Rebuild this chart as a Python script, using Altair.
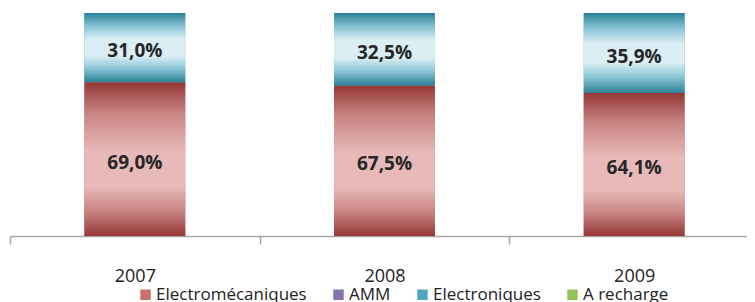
import altair as alt
import pandas as pd

years = ["2007", "2008", "2009"]
series = ["Electromécaniques", "AMM", "Electroniques", "A recharge"]
electromecaniques = [69.0, 67.5, 64.1]
amm = [0.0, 0.0, 0.0]
electroniques = [31.0, 32.5, 35.9]
a_recharge = [0.0, 0.0, 0.0]
legend_colors = ["#c86f6c", "#8a73a8", "#4fa7bf", "#93c25a"]

rows = []
for i, y in enumerate(years):
    for k, (s, vals) in enumerate(zip(series, [electromecaniques, amm, electroniques, a_recharge])):
        rows.append({"year": y, "series": s, "value": vals[i], "order": k})
df = pd.DataFrame(rows)

FONT = "Open Sans"
RANGE_W = 749
STEP = RANGE_W / len(years)

red_grad = alt.Gradient(
    gradient="linear", x1=0, x2=0, y1=0, y2=1,
    stops=[
        alt.GradientStop(color="#953735", offset=0),
        alt.GradientStop(color="#c78482", offset=0.2),
        alt.GradientStop(color="#e7b9b8", offset=0.45),
        alt.GradientStop(color="#e7b9b8", offset=0.68),
        alt.GradientStop(color="#c78482", offset=0.84),
        alt.GradientStop(color="#953735", offset=1),
    ],
)
teal_grad = alt.Gradient(
    gradient="linear", x1=0, x2=0, y1=0, y2=1,
    stops=[
        alt.GradientStop(color="#2b8096", offset=0),
        alt.GradientStop(color="#8cc6d6", offset=0.2),
        alt.GradientStop(color="#dbeef4", offset=0.38),
        alt.GradientStop(color="#dbeef4", offset=0.62),
        alt.GradientStop(color="#8cc6d6", offset=0.8),
        alt.GradientStop(color="#2b8096", offset=1),
    ],
)

x_enc = alt.X(
    "year:N",
    sort=years,
    title=None,
    scale=alt.Scale(range=[0, RANGE_W], paddingInner=0.596, paddingOuter=0.298),
    axis=alt.Axis(
        labelAngle=0,
        labelFont=FONT,
        labelFontSize=18,
        labelColor="#222222",
        labelPadding=23,
        domainColor="#a6a6a6",
        domainWidth=1.5,
        tickColor="#a6a6a6",
        tickWidth=1.5,
        tickSize=8,
        tickOffset=-STEP / 2,
        labelOffset=STEP / 2,
        grid=False,
    ),
)
y_scale = alt.Scale(domain=[0, 100])

base = alt.Chart(df).transform_stack(
    stack="value",
    groupby=["year"],
    as_=["y0", "y1"],
    sort=[alt.SortField("order", order="ascending")],
)

legend_layer = base.mark_bar().encode(
    x=x_enc,
    y=alt.Y("y0:Q", scale=y_scale, axis=None),
    y2="y1:Q",
    color=alt.Color(
        "series:N",
        scale=alt.Scale(domain=series, range=legend_colors),
        legend=alt.Legend(
            title=None,
            orient="none",
            direction="horizontal",
            legendX=127,
            legendY=273,
            symbolType="square",
            symbolSize=110,
            symbolStrokeWidth=0,
            labelFont=FONT,
            labelFontSize=17,
            labelColor="#222222",
            labelOffset=2,
            columnPadding=23,
        ),
    ),
)

red_layer = base.transform_filter(alt.datum.series == "Electromécaniques").mark_bar(fill=red_grad).encode(
    x=x_enc, y=alt.Y("y0:Q", scale=y_scale, axis=None), y2="y1:Q"
)
teal_layer = base.transform_filter(alt.datum.series == "Electroniques").mark_bar(fill=teal_grad).encode(
    x=x_enc, y=alt.Y("y0:Q", scale=y_scale, axis=None), y2="y1:Q"
)

text_layer = base.transform_filter(alt.datum.value > 0).transform_calculate(
    mid="(datum.y0 + datum.y1) / 2",
    label="replace(format(datum.value, '.1f'), '.', ',') + '%'",
).mark_text(font=FONT, fontWeight="bold", fontSize=19, color="#262626", dy=3.5).encode(
    x=x_enc, y=alt.Y("mid:Q", scale=y_scale, axis=None), text="label:N"
)

chart = alt.layer(legend_layer, red_layer, teal_layer, text_layer).properties(
    width=737,
    height=223,
    autosize=alt.AutoSizeParams(type="none"),
    padding={"left": 2, "top": 5, "right": 0, "bottom": 70},
).configure_view(strokeWidth=0)

chart.save("out.html", embed_options={"renderer": "svg", "actions": False})
